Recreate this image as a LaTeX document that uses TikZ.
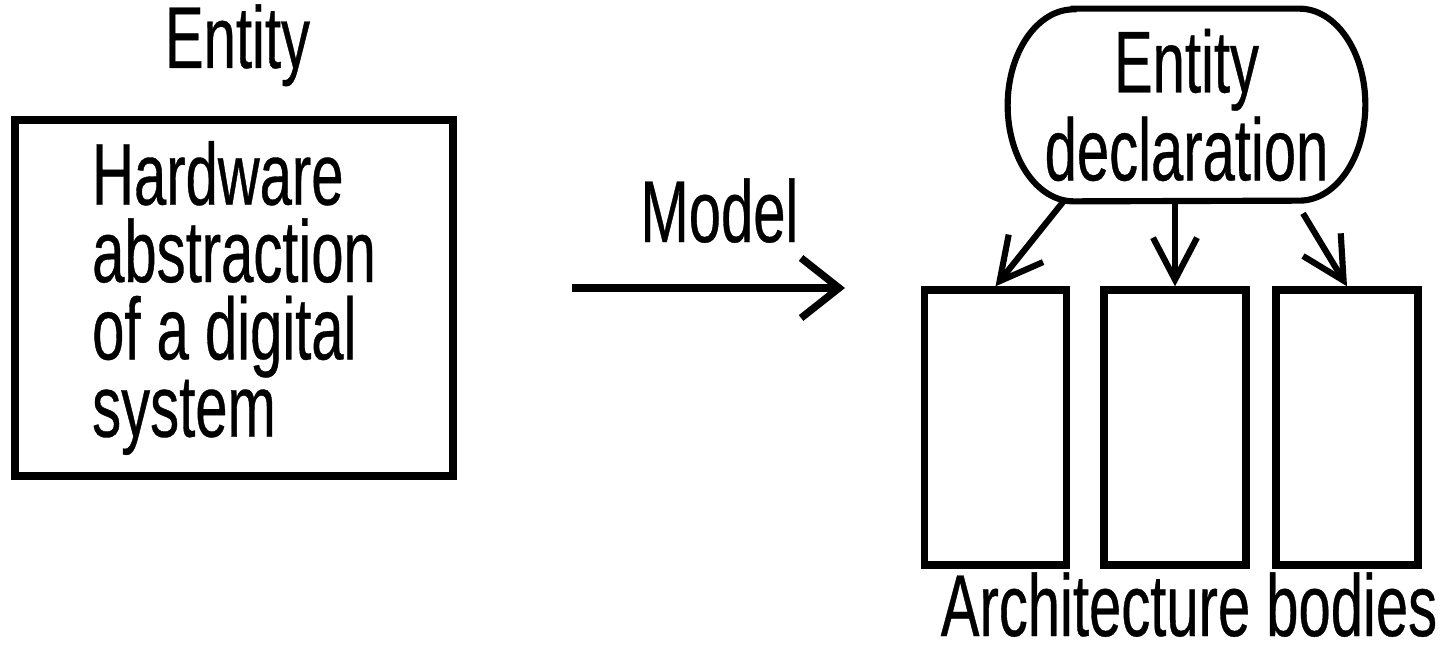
\documentclass[tikz,border=0pt]{standalone}
\usepackage{fontspec}
\setmainfont{Liberation Sans}[FakeStretch=0.66, FakeBold=0.4]
\usepackage{tikz}
\usetikzlibrary{arrows.meta, positioning, calc}
\newcommand{\letra}{\fontsize{50}{44}\selectfont}
\tikzset{
  every picture/.style={font=\letra},
  caja/.style={draw=black, line width=4.2pt, minimum width=8.76cm, minimum height=7.12cm,
              align=left, inner sep=0pt},
  cuerpo/.style={draw=black, line width=4.2pt, minimum width=2.84cm, minimum height=5.5cm,
              inner sep=0pt},
  declarac/.style={minimum width=7.14cm, minimum height=3.84cm, align=center, inner sep=0pt,
              font=\fontsize{50}{50}\selectfont},
  borde/.style={draw=black, line width=3.5pt},
  flecha/.style={-{Straight Barb[length=0.84cm, width=0.88cm]}, line width=3.5pt},
  flechag/.style={-{Straight Barb[length=0.76cm, width=1.2cm]}, line width=4.2pt},
}

\begin{document}
\begin{tikzpicture}
  \useasboundingbox (0,0) rectangle (29.04,12.92);
  % entity side
  \node[anchor=base, inner sep=1pt] (ent) at (4.75,11.56) {Entity};
  \node[caja] (hw) at (4.68,6.96) {Hardware\\abstraction\\of a digital\\system};
  \coordinate (m0) at (11.44,7.16);
  \coordinate (m1) at (16.90,7.16);
  \draw[flechag] (m0) -- node[pos=0.54, anchor=base, yshift=0.92cm] (mod) {Model} (m1);
  % model side
  \node[declarac] (decl) at (23.73,10.82) {Entity\\declaration};
  \draw[borde] ($(decl.north west)+(1.32,0)$) -- ($(decl.north east)+(-1.32,0)$)
    arc[start angle=90, end angle=-90, x radius=1.32cm, y radius=1.92cm]
    -- ($(decl.south west)+(1.32,0)$)
    arc[start angle=270, end angle=90, x radius=1.32cm, y radius=1.92cm] -- cycle;
  \node[cuerpo] (a1) at (19.91,4.37) {};
  \node[cuerpo] (a2) at (23.50,4.37) {};
  \node[cuerpo] (a3) at (26.94,4.37) {};
  \draw[flecha] ($(decl.south)+(-2.46,0)$) -- (a1.north);
  \draw[flecha] (decl.south -| a2.north) -- (a2.north);
  \draw[flecha] ($(decl.south)+(2.33,-0.24)$) -- (a3.north);
  \node[anchor=base, inner sep=1pt] (arq) at (23.78,0.2) {Architecture bodies};
\end{tikzpicture}
\end{document}
